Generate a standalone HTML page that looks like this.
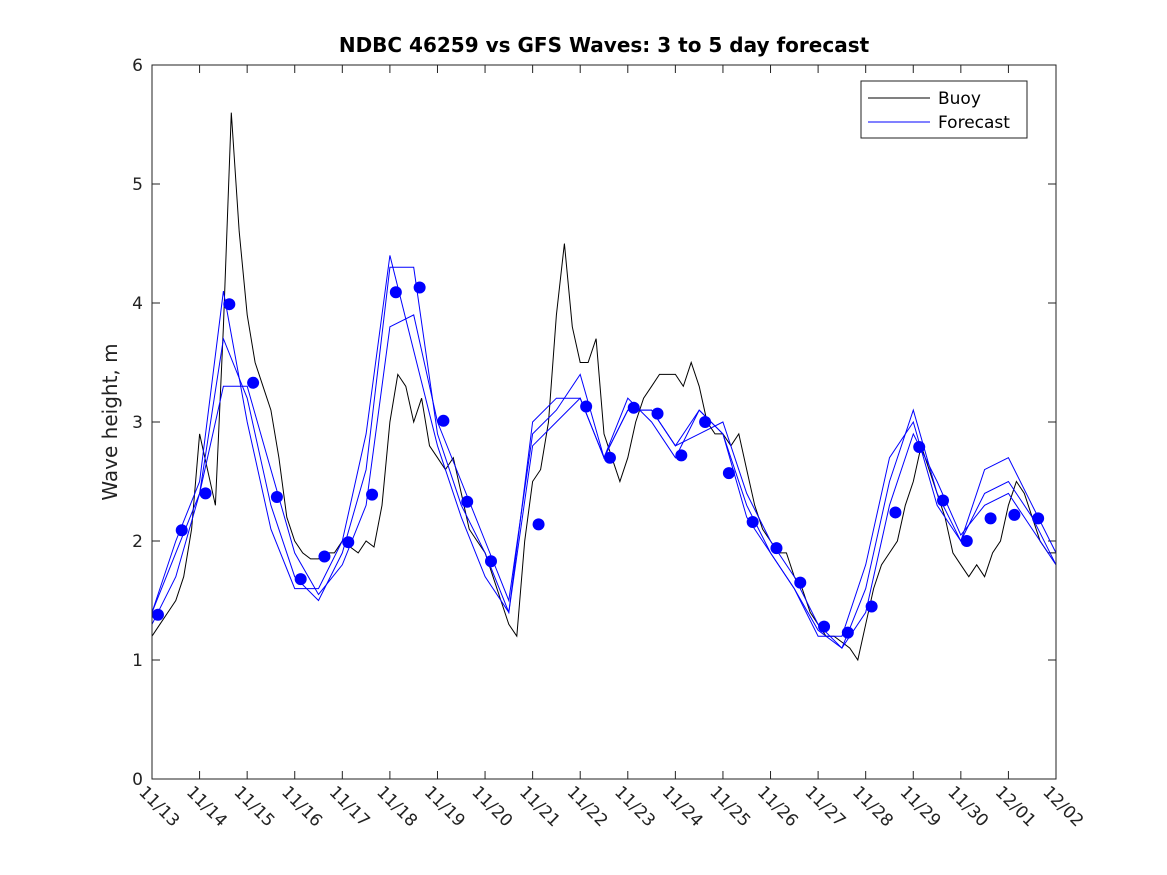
<!DOCTYPE html>
<html><head><meta charset="utf-8"><style>
body{margin:0;background:#fff;}
svg{display:block;font-family:"DejaVu Sans","Liberation Sans",sans-serif;}
</style></head><body>
<svg id="chart" width="1167" height="875"></svg>
<script>
const dayLabels=["11/13","11/14","11/15","11/16","11/17","11/18","11/19","11/20","11/21","11/22","11/23","11/24","11/25","11/26","11/27","11/28","11/29","11/30","12/01","12/02"];
const yTicks=[0,1,2,3,4,5,6];
// buoy, 4-hour steps from 11/13 00:00
const buoy=[1.2,1.3,1.4,1.5,1.7,2.1, 2.9,2.6,2.3,3.8,5.6,4.6, 3.9,3.5,3.3,3.1,2.7,2.2, 2.0,1.9,1.85,1.85,1.9,1.9, 2.0,1.95,1.9,2.0,1.95,2.3, 3.0,3.4,3.3,3.0,3.2,2.8, 2.7,2.6,2.7,2.4,2.1,2.0, 1.9,1.7,1.5,1.3,1.2,2.0, 2.5,2.6,3.0,3.9,4.5,3.8, 3.5,3.5,3.7,2.9,2.7,2.5, 2.7,3.0,3.2,3.3,3.4,3.4, 3.4,3.3,3.5,3.3,3.0,2.9, 2.9,2.8,2.9,2.6,2.3,2.1, 2.0,1.9,1.9,1.7,1.6,1.4, 1.3,1.2,1.2,1.15,1.1,1.0, 1.3,1.6,1.8,1.9,2.0,2.3, 2.5,2.8,2.6,2.4,2.2,1.9, 1.8,1.7,1.8,1.7,1.9,2.0, 2.3,2.5,2.4,2.2,2.0,1.9,1.9];
// forecast runs, 12-hour steps from 11/13 00:00
const fcA=[1.3,1.7,2.4,3.3,3.3,2.6,1.9,1.55,1.8,2.3,3.8,3.9,3.0,2.5,2.0,1.5,2.9,3.1,3.4,2.7,3.1,3.1,2.8,2.9,3.0,2.4,2.0,1.7,1.3,1.1,1.4,2.3,2.9,2.5,2.05,2.3,2.4,2.1,1.8];
const fcB=[1.4,1.9,2.4,3.7,3.2,2.3,1.7,1.5,1.9,2.6,4.3,4.3,2.9,2.3,1.9,1.4,2.8,3.0,3.2,2.7,3.1,3.1,2.8,3.1,2.9,2.3,1.9,1.6,1.25,1.1,1.6,2.5,3.1,2.4,2.0,2.6,2.7,2.3,1.9];
const fcC=[1.4,2.0,2.5,4.1,3.0,2.1,1.6,1.6,2.0,2.9,4.4,3.6,2.8,2.2,1.7,1.4,3.0,3.2,3.2,2.7,3.2,3.0,2.7,3.1,2.9,2.2,1.9,1.6,1.2,1.2,1.8,2.7,3.0,2.3,2.0,2.4,2.5,2.2,1.8];
// forecast dots, 12-hour steps starting 11/13 03:00
const dots=[1.38,2.09,2.40,3.99,3.33,2.37,1.68,1.87,1.99,2.39,4.09,4.13,3.01,2.33,1.83,null,2.14,null,3.13,2.70,3.12,3.07,2.72,3.00,2.57,2.16,1.94,1.65,1.28,1.23,1.45,2.24,2.79,2.34,2.00,2.19,2.22,2.19];

const NS="http://www.w3.org/2000/svg";
const svg=document.getElementById('chart');
const L=152,R=1056,T=65,B=779;
const xS=d=>L+(R-L)*d/19;
const yS=v=>B-(B-T)*v/6;
function mk(tag,attrs,parent){const e=document.createElementNS(NS,tag);for(const k in attrs)e.setAttribute(k,attrs[k]);(parent||svg).appendChild(e);return e;}

mk('rect',{x:L,y:T,width:R-L,height:B-T,fill:'#fff',stroke:'none'});
const tt=mk('text',{x:604,y:52,'text-anchor':'middle','font-size':'20','font-weight':'bold',fill:'#000'});
tt.textContent='NDBC 46259 vs GFS Waves: 3 to 5 day forecast';


const yl=mk('text',{x:0,y:0,transform:'translate(117,422) rotate(-90)','text-anchor':'middle','font-size':'20',fill:'#222'});
yl.textContent='Wave height, m';



yTicks.forEach(v=>{const y=yS(v);
 mk('line',{x1:L,x2:L+8,y1:y,y2:y,stroke:'#222'});mk('line',{x1:R-8,x2:R,y1:y,y2:y,stroke:'#222'});
 const t=mk('text',{x:L-9,y:y+6,'text-anchor':'end','font-size':'17',fill:'#222'});t.textContent=v;
 
 });
dayLabels.forEach((lab,i)=>{const x=xS(i);
 mk('line',{x1:x,x2:x,y1:B,y2:B-8,stroke:'#222'});mk('line',{x1:x,x2:x,y1:T,y2:T+8,stroke:'#222'});
 const t=mk('text',{x:0,y:0,transform:`translate(${x-14},${B+14}) rotate(45)`,'font-size':'17',fill:'#222'});t.textContent=lab;
 
 });

function pathOf(arr,step,off){let d='',pen=false;arr.forEach((v,i)=>{if(v==null){pen=false;return;}const x=xS(off+i*step),y=yS(v);d+=(pen?'L':'M')+x.toFixed(1)+','+y.toFixed(1);pen=true;});return d;}
const bp=mk('path',{d:pathOf(buoy,1/6,0),fill:'none',stroke:'#000','stroke-width':1});


[fcA,fcB,fcC].forEach((s,i)=>{const p=mk('path',{d:pathOf(s,0.5,0),fill:'none',stroke:'#0000ff','stroke-width':1});
 
 });
dots.forEach(v=>{if(v==null)return;const i=dots.indexOf(v);});
dots.forEach((v,i)=>{if(v==null)return;const c=mk('circle',{cx:xS(0.125+0.5*i),cy:yS(v),r:6,fill:'#0000ff'});
 
 });
mk('rect',{x:L,y:T,width:R-L,height:B-T,fill:'none',stroke:'#222','stroke-width':1});

const lg=mk('g',{});


mk('rect',{x:861,y:81,width:166,height:57,fill:'#fff',stroke:'#222'},lg);
mk('line',{x1:868,x2:930,y1:98,y2:98,stroke:'#000'},lg);
mk('line',{x1:868,x2:930,y1:122,y2:122,stroke:'#0000ff'},lg);
const l1=mk('text',{x:938,y:104,'font-size':'17',fill:'#000'},lg);l1.textContent='Buoy';


const l2=mk('text',{x:938,y:128,'font-size':'17',fill:'#000'},lg);l2.textContent='Forecast';


</script>
</body></html>
